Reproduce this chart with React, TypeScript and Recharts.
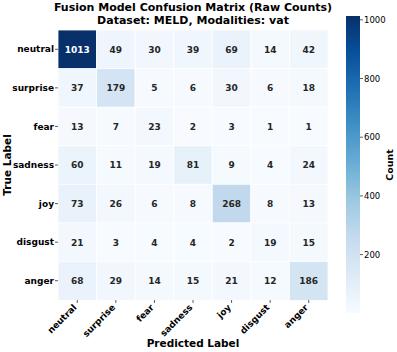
import React from 'react';
import { BarChart, Bar, XAxis, YAxis, Cell, LabelList } from 'recharts';

const trueLabels = ['neutral', 'surprise', 'fear', 'sadness', 'joy', 'disgust', 'anger'];
const predLabels = ['neutral', 'surprise', 'fear', 'sadness', 'joy', 'disgust', 'anger'];

const neutralRow = [1013, 49, 30, 39, 69, 14, 42];
const surpriseRow = [37, 179, 5, 6, 30, 6, 18];
const fearRow = [13, 7, 23, 2, 3, 1, 1];
const sadnessRow = [60, 11, 19, 81, 9, 4, 24];
const joyRow = [73, 26, 6, 8, 268, 8, 13];
const disgustRow = [21, 3, 4, 4, 2, 19, 15];
const angerRow = [68, 29, 14, 15, 21, 12, 186];

const matrix = [neutralRow, surpriseRow, fearRow, sadnessRow, joyRow, disgustRow, angerRow];
const colorbarTicks = [200, 400, 600, 800, 1000];

const FONT = '"DejaVu Sans", sans-serif';

const BLUES = ['#f7fbff', '#deebf7', '#c6dbef', '#9ecae1', '#6baed6', '#4292c6', '#2171b5', '#08519c', '#08306b'];

const hexToRgb = (h: string) => [1, 3, 5].map((i) => parseInt(h.slice(i, i + 2), 16));

function bluesRgb(t: number): number[] {
  const tt = Math.max(0, Math.min(1, t)) * (BLUES.length - 1);
  const i = Math.min(Math.floor(tt), BLUES.length - 2);
  const f = tt - i;
  const a = hexToRgb(BLUES[i]);
  const b = hexToRgb(BLUES[i + 1]);
  return a.map((v, k) => v + (b[k] - v) * f);
}

const allVals = matrix.flat();
const vmin = Math.min(...allVals);
const vmax = Math.max(...allVals);
const norm = (v: number) => (v - vmin) / (vmax - vmin);

function cellColor(v: number): string {
  const [r, g, b] = bluesRgb(norm(v));
  return `rgb(${Math.round(r)},${Math.round(g)},${Math.round(b)})`;
}

function textColor(v: number): string {
  const rgb = bluesRgb(norm(v)).map((c) => {
    const s = c / 255;
    return s <= 0.03928 ? s / 12.92 : Math.pow((s + 0.055) / 1.055, 2.4);
  });
  const lum = 0.2126 * rgb[0] + 0.7152 * rgb[1] + 0.0722 * rgb[2];
  return lum > 0.408 ? '#262626' : '#ffffff';
}

const rows = trueLabels.map((name, i) => {
  const o: any = { name };
  predLabels.forEach((_, j) => {
    o[`c${j}`] = 1;
    o[`v${j}`] = matrix[i][j];
  });
  return o;
});

const colorbarData = [{ name: 'cb', range: [vmin, vmax] }];

const renderCellLabel = (p: any) => {
  const x = p.viewBox?.x ?? p.x;
  const y = p.viewBox?.y ?? p.y;
  const w = p.viewBox?.width ?? p.width;
  const h = p.viewBox?.height ?? p.height;
  const v = Number(p.value);
  return (
    <text
      x={x + w / 2}
      y={y + h / 2}
      dy="0.36em"
      textAnchor="middle"
      fontFamily={FONT}
      fontWeight="bold"
      fontSize={9}
      fill={textColor(v)}
    >
      {v}
    </text>
  );
};

const XTick = (p: any) => {
  const { x, y, payload } = p;
  const label = predLabels[Math.floor(payload.value)];
  return (
    <text
      x={x}
      y={y + 3}
      transform={`rotate(-45, ${x}, ${y + 3})`}
      textAnchor="end"
      fontFamily={FONT}
      fontWeight="bold"
      fontSize={9}
      fill="#000"
    >
      {label}
    </text>
  );
};

export default function App() {
  const xTicks = predLabels.map((_, j) => j + 0.5);
  return (
    <div style={{ position: 'absolute', left: 0, top: 0, width: 397, height: 352, background: '#fff' }}>
      <div style={{ position: 'absolute', left: 0, top: 0 }}>
        <BarChart
          width={340}
          height={352}
          data={rows}
          layout="vertical"
          margin={{ top: 30, right: 12, bottom: 22, left: 0 }}
          barCategoryGap={0}
          barGap={0}
        >
          <XAxis
            type="number"
            domain={[0, 7]}
            ticks={xTicks}
            interval={0}
            height={30}
            axisLine={false}
            tickSize={3}
            tickMargin={2}
            tickLine={{ stroke: '#333', strokeWidth: 0.8 }}
            tick={<XTick />}
            allowDataOverflow
          />
          <YAxis
            type="category"
            dataKey="name"
            width={58}
            axisLine={false}
            tickSize={3}
            tickMargin={1}
            tickLine={{ stroke: '#333', strokeWidth: 0.8 }}
            tick={{ fontFamily: FONT, fontWeight: 'bold', fontSize: 9, fill: '#000' }}
            interval={0}
          />
          {predLabels.map((_, j) => (
            <Bar key={j} dataKey={`c${j}`} stackId="m" isAnimationActive={false}>
              {rows.map((_, i) => (
                <Cell key={i} fill={cellColor(matrix[i][j])} stroke="#ffffff" strokeWidth={0.8} />
              ))}
              <LabelList dataKey={`v${j}`} content={renderCellLabel} />
            </Bar>
          ))}
        </BarChart>
      </div>
      <div style={{ position: 'absolute', left: 346, top: 0 }}>
        <svg width={0} height={0} style={{ position: 'absolute' }}>
          <defs>
            <linearGradient id="bluesGrad" x1="0" y1="1" x2="0" y2="0">
              {BLUES.map((c, k) => (
                <stop key={k} offset={`${(k / (BLUES.length - 1)) * 100}%`} stopColor={c} />
              ))}
            </linearGradient>
          </defs>
        </svg>
        <BarChart
          width={51}
          height={352}
          data={colorbarData}
          margin={{ top: 16, right: 0, bottom: 39, left: 0 }}
          barCategoryGap={0}
        >
          <XAxis dataKey="name" hide />
          <YAxis
            orientation="right"
            type="number"
            domain={[vmin, vmax]}
            ticks={colorbarTicks}
            width={37}
            axisLine={false}
            tickSize={3}
            tickMargin={1}
            tickLine={{ stroke: '#333', strokeWidth: 0.8 }}
            tick={{ fontFamily: FONT, fontSize: 8.5, fill: '#000' }}
            allowDataOverflow
          />
          <Bar dataKey="range" fill="url(#bluesGrad)" isAnimationActive={false} />
        </BarChart>
      </div>
      <svg
        width={397}
        height={352}
        style={{ position: 'absolute', left: 0, top: 0, pointerEvents: 'none' }}
      >
        <g fontFamily={FONT} fontWeight="bold" fill="#000">
          <text x={193} y={11} textAnchor="middle" fontSize={11}>
            Fusion Model Confusion Matrix (Raw Counts)
          </text>
          <text x={193} y={24} textAnchor="middle" fontSize={11}>
            Dataset: MELD, Modalities: vat
          </text>
          <text x={193} y={347} textAnchor="middle" fontSize={10.5}>
            Predicted Label
          </text>
          <text x={11} y={165} textAnchor="middle" fontSize={10.5} transform="rotate(-90, 11, 165)">
            True Label
          </text>
          <text x={393} y={165} textAnchor="middle" fontSize={9.5} transform="rotate(-90, 393, 165)">
            Count
          </text>
        </g>
      </svg>
    </div>
  );
}
